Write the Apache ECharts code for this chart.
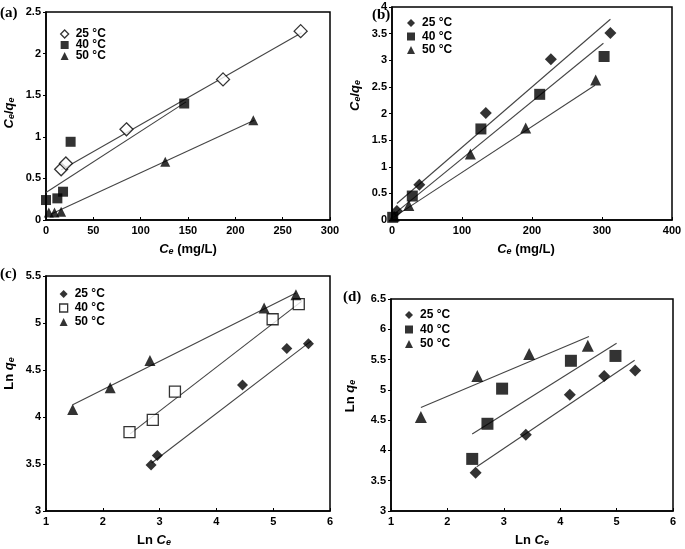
<!DOCTYPE html>
<html>
<head>
<meta charset="utf-8">
<script src="https://cdn.jsdelivr.net/npm/echarts@6/dist/echarts.min.js"></script>
<style>html,body{margin:0;padding:0;background:#fff}#c{width:685px;height:549px}</style>
</head>
<body>
<div id="c"></div>
<script>
// ---- data: panel (a) Ce/qe vs Ce ----
const a25 = [[16,0.61],[21,0.68],[85,1.09],[187,1.69],[269,2.27]];
const a40 = [[0,0.24],[12,0.26],[18,0.34],[26,0.94],[146,1.40]];
const a50 = [[3,0.09],[9,0.09],[16,0.10],[126,0.70],[219,1.20]];
const fitA25 = [[16,0.60],[270,2.25]];
const fitA40 = [[0,0.33],[148,1.42]];
const fitA50 = [[5,0.07],[220,1.20]];
// ---- panel (b) ----
const b25 = [[7,0.17],[39,0.66],[134,2.01],[227,3.02],[312,3.51]];
const b40 = [[1,0.05],[29,0.45],[127,1.71],[211,2.36],[303,3.07]];
const b50 = [[3,0.07],[24,0.27],[112,1.24],[191,1.73],[291,2.63]];
const fitB25 = [[7,0.31],[312,3.77]];
const fitB40 = [[2,0.10],[302,3.32]];
const fitB50 = [[2,0.05],[290,2.53]];
// ---- panel (c) Ln qe vs Ln Ce ----
const c25 = [[2.85,3.49],[2.96,3.59],[4.46,4.34],[5.24,4.73],[5.62,4.78]];
const c40 = [[2.47,3.84],[2.88,3.97],[3.27,4.27],[4.99,5.04],[5.45,5.20]];
const c50 = [[1.47,4.08],[2.13,4.31],[2.83,4.60],[4.84,5.16],[5.40,5.30]];
const fitC25 = [[2.86,3.51],[5.67,4.81]];
const fitC40 = [[2.48,3.82],[5.50,5.23]];
const fitC50 = [[1.47,4.13],[5.40,5.32]];
// ---- panel (d) ----
const d25 = [[2.50,3.63],[3.39,4.26],[4.17,4.92],[4.78,5.23],[5.33,5.32]];
const d40 = [[2.44,3.86],[2.71,4.44],[2.97,5.02],[4.19,5.48],[4.98,5.56]];
const d50 = [[1.53,4.55],[2.53,5.23],[3.45,5.59],[4.49,5.73]];
const fitD25 = [[2.52,3.73],[5.32,5.49]];
const fitD40 = [[2.44,4.27],[5.00,5.77]];
const fitD50 = [[1.53,4.71],[4.51,5.88]];

const seriesNames = ['25 °C','40 °C','50 °C'];
const panelLabels = ['(a)','(b)','(c)','(d)'];
const xRanges = [[0,300,50],[0,400,100],[1,6,1],[1,6,1]];
const yRanges = [[0,2.5,0.5],[0,4,0.5],[3,5.5,0.5],[3,6.5,0.5]];

const FONT = 'Liberation Sans, Arial, sans-serif';
const rich = {
  i:{fontStyle:'italic',fontWeight:'bold',fontSize:13,fontFamily:FONT,color:'#000'},
  s:{fontStyle:'italic',fontWeight:'bold',fontSize:9,fontFamily:FONT,color:'#000',verticalAlign:'bottom',padding:[5,0,0,0]},
  n:{fontWeight:'bold',fontSize:13,fontFamily:FONT,color:'#000'}
};
const grids = [
  {left:46,top:12,width:284,height:208},
  {left:392,top:7,width:280,height:213},
  {left:46,top:276,width:284,height:235},
  {left:391,top:299,width:282,height:212}
];
const xNames = ['{i|C}{s|e}{n| (mg/L)}','{i|C}{s|e}{n| (mg/L)}','{n|Ln }{i|C}{s|e}','{n|Ln }{i|C}{s|e}'];
const yNames = ['{i|C}{s|e}{n|/}{i|q}{s|e}','{i|C}{s|e}{n|/}{i|q}{s|e}','{n|Ln }{i|q}{s|e}','{n|Ln }{i|q}{s|e}'];
const xNamePad = [[0,0,0,0],[0,12,0,0],[0,68,0,0],[0,0,0,0]];
const yNamePad = [[0,0,0,6],[0,0,0,36],[0,0,0,40],[0,0,0,18]];
const yNameGap = [30,30,30,34];

const xAxis = xRanges.map((r,k)=>({
  type:'value', gridIndex:k, min:r[0], max:r[1], interval:r[2],
  name:xNames[k], nameLocation:'middle', nameGap:22,
  nameTextStyle:{rich:rich, padding:xNamePad[k]},
  axisLine:{lineStyle:{color:'#000',width:1.5}},
  axisTick:{inside:true,length:3,lineStyle:{color:'#000'}},
  axisLabel:{color:'#000',fontWeight:'bold',fontSize:11,fontFamily:FONT,margin:5},
  splitLine:{show:false}
}));
const yAxis = yRanges.map((r,k)=>({
  type:'value', gridIndex:k, min:r[0], max:r[1], interval:r[2],
  name:yNames[k], nameLocation:'middle', nameGap:yNameGap[k], nameRotate:90,
  nameTextStyle:{rich:rich, padding:yNamePad[k]},
  axisLine:{lineStyle:{color:'#000',width:1.5}},
  axisTick:{length:3,lineStyle:{color:'#000'}},
  axisLabel:{color:'#000',fontWeight:'bold',fontSize:11,fontFamily:FONT,margin:5},
  splitLine:{show:false}
}));

const pts = [[a25,a40,a50],[b25,b40,b50],[c25,c40,c50],[d25,d40,d50]];
const fits = [[fitA25,fitA40,fitA50],[fitB25,fitB40,fitB50],[fitC25,fitC40,fitC50],[fitD25,fitD40,fitD50]];
const symbols = ['diamond','rect','triangle'];
const hollow = [[true,false,false],[false,false,false],[false,true,false],[false,false,false]];
const sizes = [[13,10,10],[12,11,11],[11,11,11],[12,12,12]];
const styleFor = (h)=> h ? {color:'#fff',borderColor:'#000',borderWidth:1.3} : {color:'#000',borderColor:'#000',borderWidth:0};

const series = [];
for (let k=0;k<4;k++){
  for (let j=0;j<3;j++){
    series.push({type:'line', xAxisIndex:k, yAxisIndex:k, data:fits[k][j], showSymbol:false, symbol:'none',
      lineStyle:{color:'#444',width:1.1}, silent:true, z:1});
  }
  for (let j=0;j<3;j++){
    series.push({type:'scatter', name:seriesNames[j], xAxisIndex:k, yAxisIndex:k, data:pts[k][j],
      symbol:symbols[j], symbolSize:sizes[k][j], itemStyle:styleFor(hollow[k][j]), z:3});
  }
}

const legendPos = [{left:55,top:23,gap:-1},{left:402,top:12,gap:1.5},{left:54,top:283,gap:2},{left:400,top:304,gap:2.5}];
const legend = legendPos.map((p,k)=>({
  orient:'vertical', left:p.left, top:p.top, itemGap:p.gap, itemWidth:8, itemHeight:8,
  selectedMode:false,
  textStyle:{color:'#000',fontWeight:'bold',fontSize:12,fontFamily:FONT,padding:[0,0,0,2]},
  data:seriesNames.map((n,j)=>({name:n, icon:symbols[j], itemStyle:styleFor(hollow[k][j])}))
}));

const titlePos = [{left:0,top:6},{left:372,top:8},{left:0,top:267},{left:343,top:290}];
const title = titlePos.map((p,k)=>({text:panelLabels[k], left:p.left, top:p.top, padding:0,
  textStyle:{fontFamily:'Liberation Serif, Times New Roman, serif',fontWeight:'bold',fontSize:15,color:'#000'}}));

const chart = echarts.init(document.getElementById('c'), null, {renderer:'canvas'});
chart.setOption({
  animation:false, backgroundColor:'#fff',
  title:title,
  legend:legend,
  grid:grids.map(g=>Object.assign({show:true,borderColor:'#000',borderWidth:1.5,backgroundColor:'transparent'},g)),
  xAxis:xAxis, yAxis:yAxis, series:series
});
</script>
</body>
</html>
